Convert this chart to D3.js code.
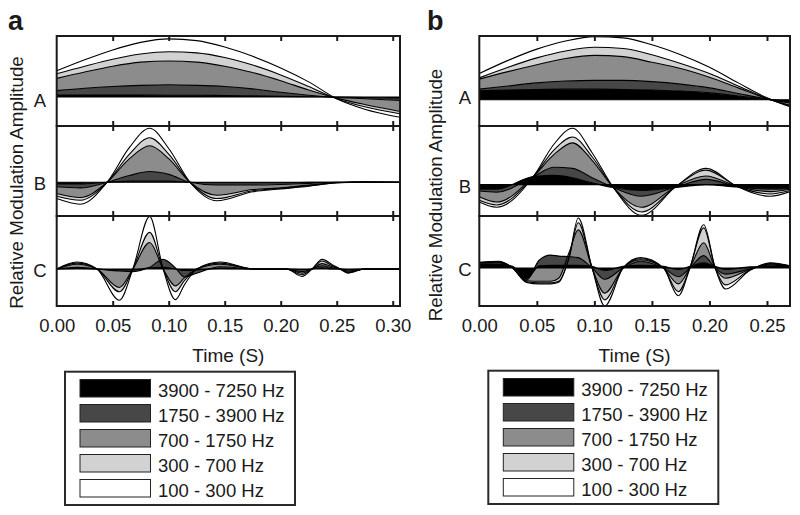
<!DOCTYPE html>
<html><head><meta charset="utf-8">
<script src="https://cdn.jsdelivr.net/npm/d3@7"></script>
<style>
body{margin:0;background:#fff}
svg{display:block}
text{font-family:"Liberation Sans",Arial,Helvetica,sans-serif;fill:#1a1a1a}
</style>
</head><body>
<svg id="chart" width="800" height="515"></svg>
<script>
// ---------------- DATA ----------------
const bandLabels = ["3900 - 7250 Hz", "1750 - 3900 Hz", "700 - 1750 Hz", "300 - 700 Hz", "100 - 300 Hz"];
const rowLabels = ["A", "B", "C"];
const xTicksA = [0, 0.05, 0.10, 0.15, 0.20, 0.25, 0.30];
const xTicksB = [0, 0.05, 0.10, 0.15, 0.20, 0.25];

// Cumulative modulation levels (b1 = 3900-7250 Hz, b2 = + 1750-3900 Hz, ... b5 = + 100-300 Hz)
// Panel a, row A
const aA_t  = [0, 0.025, 0.05, 0.075, 0.10, 0.125, 0.15, 0.175, 0.20, 0.225, 0.25, 0.275, 0.3065];
const aA_b1 = [0.035, 0.035, 0.035, 0.035, 0.03, 0.03, 0.025, 0.02, 0.01, 0.005, 0, -0.01, -0.02];
const aA_b2 = [0.11, 0.15, 0.18, 0.20, 0.21, 0.20, 0.18, 0.14, 0.08, 0.03, -0.01, -0.03, -0.06];
const aA_b3 = [0.32, 0.43, 0.53, 0.60, 0.62, 0.60, 0.53, 0.42, 0.28, 0.12, -0.02, -0.13, -0.25];
const aA_b4 = [0.40, 0.53, 0.65, 0.74, 0.78, 0.76, 0.68, 0.55, 0.38, 0.18, -0.03, -0.17, -0.29];
const aA_b5 = [0.45, 0.64, 0.81, 0.94, 1.00, 0.97, 0.86, 0.70, 0.50, 0.26, -0.03, -0.21, -0.35];
// Panel a, row B
const aB_t  = [0, 0.021, 0.045, 0.065, 0.083, 0.10, 0.119, 0.143, 0.175, 0.20, 0.225, 0.25, 0.275, 0.3065];
const aB_b1 = [-0.03, -0.03, 0, 0.02, 0.02, 0.02, 0, -0.01, -0.01, -0.01, 0, 0, 0, 0];
const aB_b2 = [-0.08, -0.10, 0, 0.12, 0.19, 0.14, 0, -0.05, -0.05, -0.04, -0.02, 0, 0, 0];
const aB_b3 = [-0.20, -0.27, 0, 0.42, 0.65, 0.42, 0, -0.23, -0.13, -0.10, -0.05, -0.01, 0, 0];
const aB_b4 = [-0.25, -0.32, 0, 0.50, 0.79, 0.50, 0, -0.29, -0.15, -0.11, -0.06, -0.01, 0.01, 0];
const aB_b5 = [-0.29, -0.39, 0, 0.62, 0.96, 0.60, 0, -0.33, -0.17, -0.12, -0.07, -0.01, 0.01, 0];
// Panel a, row C
const aC_t  = [0, 0.018, 0.036, 0.056, 0.068, 0.083, 0.095, 0.106, 0.114, 0.125, 0.146, 0.176, 0.205, 0.219, 0.228, 0.237, 0.246, 0.253, 0.26, 0.275, 0.3065];
const aC_b1 = [0, 0.01, 0, -0.02, -0.02, 0.02, 0.03, 0, -0.03, -0.02, 0.01, 0, 0, -0.01, 0, 0.02, 0, 0, -0.01, 0, 0];
const aC_b2 = [0, 0.03, 0, -0.04, -0.05, 0.03, 0.18, 0.02, -0.15, -0.08, 0.04, 0, 0, -0.05, 0, 0.06, 0.02, 0, -0.04, 0, 0];
const aC_b3 = [0, 0.09, 0, -0.35, 0, 0.50, 0, -0.32, -0.17, 0, 0.09, 0, 0, -0.08, 0, 0.10, 0.04, 0, -0.06, 0, 0];
const aC_b4 = [0, 0.11, 0, -0.43, 0, 0.69, 0, -0.43, -0.22, 0, 0.11, 0, 0, -0.11, 0, 0.15, 0.06, 0, -0.07, 0, 0];
const aC_b5 = [0, 0.13, 0, -0.59, 0, 0.99, 0, -0.58, -0.30, 0, 0.13, 0, 0, -0.14, 0, 0.18, 0.08, 0, -0.08, 0, 0];
// Panel b, row A
const bA_t  = [0, 0.025, 0.05, 0.075, 0.10, 0.125, 0.15, 0.175, 0.20, 0.225, 0.25, 0.27];
const bA_b1 = [0.145, 0.155, 0.165, 0.17, 0.17, 0.165, 0.155, 0.14, 0.11, 0.06, 0.01, -0.03];
const bA_b2 = [0.17, 0.22, 0.27, 0.30, 0.31, 0.31, 0.29, 0.25, 0.19, 0.10, 0.01, -0.05];
const bA_b3 = [0.33, 0.45, 0.56, 0.66, 0.71, 0.69, 0.60, 0.50, 0.36, 0.19, 0.02, -0.09];
const bA_b4 = [0.35, 0.52, 0.67, 0.78, 0.84, 0.82, 0.72, 0.58, 0.42, 0.22, 0.02, -0.10];
const bA_b5 = [0.42, 0.63, 0.81, 0.94, 1.01, 0.99, 0.88, 0.72, 0.52, 0.27, 0.03, -0.11];
// Panel b, row B
const bB_t  = [0, 0.015, 0.047, 0.065, 0.081, 0.098, 0.1165, 0.141, 0.171, 0.197, 0.224, 0.253, 0.27];
const bB_b1 = [-0.08, -0.08, 0.14, 0.16, 0.12, 0.03, -0.05, -0.10, -0.05, 0.0, -0.04, -0.06, -0.06];
const bB_b2 = [-0.11, -0.13, 0.14, 0.30, 0.28, 0.12, -0.05, -0.20, -0.04, 0.09, -0.03, -0.08, -0.07];
const bB_b3 = [-0.21, -0.30, 0.14, 0.52, 0.72, 0.42, -0.05, -0.39, -0.03, 0.15, -0.03, -0.12, -0.08];
const bB_b4 = [-0.27, -0.35, 0.14, 0.60, 0.82, 0.48, -0.05, -0.47, -0.03, 0.25, -0.03, -0.16, -0.10];
const bB_b5 = [-0.30, -0.39, 0.14, 0.70, 0.97, 0.55, -0.05, -0.53, -0.03, 0.28, -0.03, -0.20, -0.12];
// Panel b, row C
const bC_t  = [0, 0.017, 0.029, 0.041, 0.052, 0.062, 0.069, 0.078, 0.086, 0.098, 0.109, 0.125, 0.14, 0.16, 0.173, 0.183, 0.195, 0.205, 0.214, 0.235, 0.253, 0.27];
const bC_b1 = [0.07, 0.07, 0.03, -0.22, 0.04, 0.05, 0.05, 0.05, 0.05, 0.03, -0.05, 0.03, 0.05, 0.03, -0.03, 0.03, 0.10, 0.03, -0.03, 0.02, 0.03, 0.03];
const bC_b2 = [0.09, 0.10, 0, -0.24, 0.15, 0.25, 0.23, 0.22, 0.20, 0, -0.22, 0, 0.13, 0, -0.17, 0, 0.24, 0, -0.12, -0.02, 0.06, 0.03];
const bC_b3 = [0.10, 0.11, 0, -0.25, -0.26, -0.26, -0.20, 0.30, 0.74, 0, -0.49, 0, 0.16, 0, -0.31, 0, 0.49, 0, -0.20, -0.03, 0.08, 0.03];
const bC_b4 = [0.10, 0.12, 0, -0.27, -0.29, -0.29, -0.26, 0.20, 0.88, 0, -0.62, 0, 0.18, 0, -0.46, 0, 0.78, 0, -0.33, -0.04, 0.09, 0.04];
const bC_b5 = [0.11, 0.13, 0, -0.28, -0.31, -0.31, -0.28, 0.20, 0.97, 0, -0.74, 0, 0.20, 0, -0.54, 0, 0.84, 0, -0.41, -0.05, 0.10, 0.04];

// ---------------- STYLE / LAYOUT ----------------
const bandColors = ["#000000", "#474747", "#8c8c8c", "#d2d2d2", "#ffffff"];
const rowTops = [36, 126, 216];
const rowH = 90;
const FS = 18.5;

const panels = [
  { letter: "a", letterX: 8, x0: 56.7, x1: 400, tMax: 0.3065, ticks: xTicksA,
    rows: [
      { t: aA_t, lv: [aA_b1, aA_b2, aA_b3, aA_b4, aA_b5], dom: [-0.5, 1.05], labY: 106.5 },
      { t: aB_t, lv: [aB_b1, aB_b2, aB_b3, aB_b4, aB_b5], dom: [-0.6, 1.0], labY: 190 },
      { t: aC_t, lv: [aC_b1, aC_b2, aC_b3, aC_b4, aC_b5], dom: [-0.7, 1.0], labY: 276.5 }
    ],
    labX: 40, titleX: 23.3, titleY: 182.5, legX: 65, legY: 371.7 },
  { letter: "b", letterX: 427, x0: 479.3, x1: 790, tMax: 0.27, ticks: xTicksB,
    rows: [
      { t: bA_t, lv: [bA_b1, bA_b2, bA_b3, bA_b4, bA_b5], dom: [-0.42, 1.02], labY: 103.5 },
      { t: bB_t, lv: [bB_b1, bB_b2, bB_b3, bB_b4, bB_b5], dom: [-0.54, 1.01], labY: 193 },
      { t: bC_t, lv: [bC_b1, bC_b2, bC_b3, bC_b4, bC_b5], dom: [-0.74, 1.01], labY: 276 }
    ],
    labX: 465, titleX: 442, titleY: 195, legX: 488.3, legY: 370.7 }
];

const svg = d3.select("#chart");

panels.forEach((p, pi) => {
  const x = d3.scaleLinear().domain([0, p.tMax]).range([p.x0, p.x1]);
  const g = svg.append("g");

  g.append("text").attr("x", p.letterX).attr("y", 30)
    .attr("font-size", 27).attr("font-weight", "bold").attr("fill", "#111").text(p.letter);

  p.rows.forEach((r, ri) => {
    const top = rowTops[ri];
    const y = d3.scaleLinear().domain(r.dom).range([top + rowH, top]);
    const clipId = `clip-${pi}-${ri}`;
    g.append("clipPath").attr("id", clipId).append("rect")
      .attr("x", p.x0).attr("y", top).attr("width", p.x1 - p.x0).attr("height", rowH);
    const rg = g.append("g").attr("clip-path", `url(#${clipId})`);
    const idx = d3.range(r.t.length);
    const zero = idx.map(() => 0);
    const levels = [zero].concat(r.lv);
    // fills between successive cumulative levels, outermost band first
    for (let k = 5; k >= 1; k--) {
      const lo = levels[k - 1], hi = levels[k];
      const area = d3.area().curve(d3.curveMonotoneX)
        .x(i => x(r.t[i])).y0(i => y(lo[i])).y1(i => y(hi[i]));
      rg.append("path").attr("d", area(idx)).attr("fill", bandColors[k - 1]).attr("stroke", "none");
    }
    levels.forEach(L => {
      const line = d3.line().curve(d3.curveMonotoneX).x(i => x(r.t[i])).y(i => y(L[i]));
      rg.append("path").attr("d", line(idx)).attr("fill", "none")
        .attr("stroke", "#000").attr("stroke-width", 1.1);
    });
    g.append("rect").attr("x", p.x0).attr("y", top).attr("width", p.x1 - p.x0).attr("height", rowH)
      .attr("fill", "none").attr("stroke", "#1a1a1a").attr("stroke-width", 2);
    const inner = p.ticks.filter(d => d > 0);
    g.append("g").attr("transform", `translate(0,${top})`)
      .call(d3.axisBottom(x).tickValues(inner).tickSize(5).tickFormat(""))
      .call(a => a.select(".domain").remove())
      .selectAll("line").attr("stroke", "#1a1a1a").attr("stroke-width", 2);
    g.append("g").attr("transform", `translate(0,${top + rowH})`)
      .call(d3.axisTop(x).tickValues(inner).tickSize(5).tickFormat(""))
      .call(a => a.select(".domain").remove())
      .selectAll("line").attr("stroke", "#1a1a1a").attr("stroke-width", 2);
    g.append("text").attr("x", p.labX).attr("y", r.labY).attr("text-anchor", "middle")
      .attr("font-size", FS).text(rowLabels[ri]);
  });

  const ax = g.append("g").attr("transform", `translate(0,${rowTops[2] + rowH})`)
    .call(d3.axisBottom(x).tickValues(p.ticks).tickSize(0).tickFormat(d3.format(".2f")));
  ax.select(".domain").remove();
  ax.attr("font-family", null).attr("font-size", null);
  ax.selectAll("text").attr("y", 26).attr("dy", null).attr("font-size", FS).attr("fill", "#1a1a1a");

  g.append("text").attr("x", (p.x0 + p.x1) / 2).attr("y", 361.5).attr("text-anchor", "middle")
    .attr("font-size", FS + 0.5).text("Time (S)");

  g.append("text").attr("transform", `translate(${p.titleX},${p.titleY}) rotate(-90)`)
    .attr("text-anchor", "middle").attr("font-size", FS + 0.3).text("Relative Modulation Amplitude");

  const lg = g.append("g").attr("transform", `translate(${p.legX},${p.legY})`);
  lg.append("rect").attr("width", 230).attr("height", 133.3).attr("fill", "#fff")
    .attr("stroke", "#2a2a2a").attr("stroke-width", 2);
  bandLabels.forEach((lab, i) => {
    lg.append("rect").attr("x", 15).attr("y", 7.8 + i * 25).attr("width", 70.5).attr("height", 17.5)
      .attr("fill", bandColors[i]).attr("stroke", "#222").attr("stroke-width", 1);
    lg.append("text").attr("x", 93).attr("y", 25 + i * 25).attr("font-size", FS).text(lab);
  });
});
</script>
</body></html>
